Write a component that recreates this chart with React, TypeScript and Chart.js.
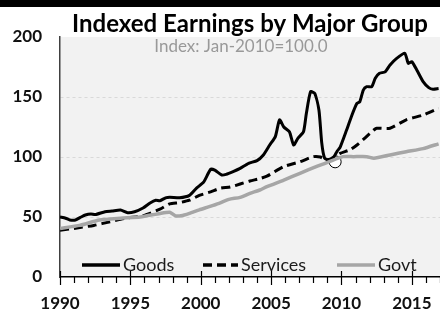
import React, { useEffect, useRef } from "react";
import { Chart, registerables } from "chart.js";

Chart.register(...registerables);

const TITLE = "Indexed Earnings by Major Group";
const SUBTITLE = "Index: Jan-2010=100.0";
const SERIES_NAMES = ["Goods", "Services", "Govt"];

const goodsYears = [1990.0, 1990.4, 1990.7, 1991.1, 1991.5, 1991.8, 1992.2, 1992.5, 1993.2, 1993.7, 1994.3, 1994.8, 1995.3, 1995.9, 1996.4, 1996.8, 1997.1, 1997.5, 1997.8, 1998.5, 1999.2, 1999.7, 2000.2, 2000.7, 2001.0, 2001.5, 2001.8, 2002.3, 2002.8, 2003.4, 2004.0, 2004.45, 2004.9, 2005.3, 2005.6, 2005.9, 2006.3, 2006.6, 2006.9, 2007.3, 2007.5, 2007.8, 2008.1, 2008.4, 2008.6, 2008.8, 2009.1, 2009.4, 2009.7, 2009.9, 2010.35, 2010.7, 2011.1, 2011.3, 2011.55, 2011.8, 2012.15, 2012.4, 2012.7, 2013.1, 2013.45, 2013.9, 2014.5, 2014.75, 2015.0, 2015.35, 2015.8, 2016.2, 2016.5, 2016.9];
const goodsValues = [50, 49, 47.5, 47.5, 50, 51.7, 52.5, 52, 54.4, 55, 55.8, 53.6, 54.4, 57.5, 61.7, 64, 63.5, 66, 66.5, 66, 68, 74, 79, 89.7, 89, 85, 85.5, 87.8, 90.5, 94.7, 97, 101.7, 110, 117, 131, 125, 121, 110, 115.6, 121, 136, 154.4, 153, 139, 111.5, 99, 97.5, 99, 105, 108, 122, 133.6, 144.7, 146, 155.8, 158.6, 158.6, 165.6, 169.7, 171, 176.7, 182, 186.4, 178, 179.4, 172.5, 162.8, 157.8, 156.4, 157];

const servicesYears = [1990.0, 1991.0, 1992.4, 1993.55, 1994.7, 1995.9, 1997.1, 1997.8, 1998.5, 1999.2, 1999.9, 2000.7, 2001.4, 2002.1, 2002.8, 2003.5, 2004.2, 2004.7, 2005.9, 2007.05, 2008.0, 2008.5, 2008.9, 2009.4, 2009.9, 2010.6, 2011.1, 2012.3, 2012.5, 2013.45, 2014.6, 2015.8, 2016.9];
const servicesValues = [39, 40.5, 43, 46, 49, 51, 56.5, 61, 62, 64, 68, 71, 74, 75, 77.5, 80, 82, 84, 92, 96, 100.3, 100, 97.5, 99, 103, 106, 110, 122.5, 124, 124, 131, 135, 140.6];

const govtYears = [1990.0, 1991.4, 1992.8, 1994.3, 1995.7, 1997.1, 1997.8, 1998.2, 1998.6, 1999.2, 1999.9, 2000.6, 2001.3, 2002.0, 2002.8, 2003.5, 2004.2, 2004.7, 2005.9, 2007.05, 2008.2, 2009.1, 2010.1, 2010.85, 2011.8, 2012.3, 2013.45, 2014.6, 2015.8, 2016.9];
const govtValues = [40.5, 43, 47.5, 49, 50, 53, 54, 51, 51, 53, 56, 58.6, 61.4, 64.7, 66.4, 69.7, 72.5, 75.3, 80.8, 86.4, 92, 96, 100.3, 100.3, 100.3, 99, 101.7, 104.4, 107, 111];

const markerYear = [2009.55];
const markerValue = [96];

const xMin = 1990;
const xMax = 2017;
const xTickValues = [1990, 1995, 2000, 2005, 2010, 2015];
const yMin = 0;
const yMax = 200;
const yTickValues = [0, 50, 100, 150, 200];

const FONT = "Lato, 'Open Sans', sans-serif";

function toPoints(xs: number[], ys: number[]) {
  return xs.map((x, i) => ({ x, y: ys[i] }));
}

const decorPlugin = {
  id: "decor",
  beforeDraw(chart: any) {
    const { ctx, chartArea } = chart;
    ctx.save();
    ctx.fillStyle = "#f2f2f2";
    ctx.fillRect(chartArea.left, chartArea.top, chartArea.right - chartArea.left, chartArea.bottom - chartArea.top);
    ctx.fillStyle = "#000000";
    ctx.font = `bold 24px ${FONT}`;
    ctx.textAlign = "center";
    ctx.textBaseline = "alphabetic";
    ctx.fillText(TITLE, (chartArea.left + chartArea.right) / 2, 32);
    ctx.fillStyle = "#999999";
    ctx.font = `17px ${FONT}`;
    ctx.fillText(SUBTITLE, 241, 52);
    ctx.restore();
  },
  afterDraw(chart: any) {
    const { ctx, chartArea } = chart;
    const xs = chart.scales.x;
    const axisY = chartArea.bottom;
    ctx.save();
    ctx.strokeStyle = "#000000";
    ctx.lineWidth = 1.2;
    for (let yr = xMin; yr <= xMax; yr++) {
      const px = Math.round(xs.getPixelForValue(yr)) + 0.5;
      ctx.beginPath();
      if (xTickValues.includes(yr)) {
        ctx.moveTo(px, axisY - 6);
        ctx.lineTo(px, axisY + 8);
      } else {
        ctx.moveTo(px, axisY);
        ctx.lineTo(px, axisY + 6);
      }
      ctx.stroke();
    }
    const ly = 265;
    const items = [
      { name: SERIES_NAMES[0], x0: 82, x1: 120, color: "#000000", dash: [] as number[] },
      { name: SERIES_NAMES[1], x0: 203, x1: 238, color: "#000000", dash: [9, 5] },
      { name: SERIES_NAMES[2], x0: 337, x1: 375, color: "#a6a6a6", dash: [] as number[] },
    ];
    ctx.font = `18px ${FONT}`;
    ctx.textAlign = "left";
    ctx.textBaseline = "middle";
    for (const it of items) {
      ctx.beginPath();
      ctx.setLineDash(it.dash);
      ctx.strokeStyle = it.color;
      ctx.lineWidth = 3.5;
      ctx.moveTo(it.x0, ly);
      ctx.lineTo(it.x1, ly);
      ctx.stroke();
      ctx.setLineDash([]);
      ctx.fillStyle = "#1a1a1a";
      ctx.fillText(it.name, it.x1 + 3, ly);
    }
    ctx.restore();
  },
};

export default function App() {
  const ref = useRef<HTMLCanvasElement | null>(null);
  useEffect(() => {
    if (!ref.current) return;
    const chart = new Chart(ref.current, {
      type: "line",
      data: {
        datasets: [
          {
            label: SERIES_NAMES[2],
            data: toPoints(govtYears, govtValues),
            borderColor: "#a6a6a6",
            borderWidth: 3.5,
            pointRadius: 0,
            tension: 0.2,
          },
          {
            label: SERIES_NAMES[1],
            data: toPoints(servicesYears, servicesValues),
            borderColor: "#000000",
            borderWidth: 3,
            borderDash: [9, 5],
            pointRadius: 0,
            tension: 0.2,
          },
          {
            label: SERIES_NAMES[0],
            data: toPoints(goodsYears, goodsValues),
            borderColor: "#000000",
            borderWidth: 3,
            pointRadius: 0,
            tension: 0.2,
          },
          {
            label: "marker",
            data: toPoints(markerYear, markerValue),
            showLine: false,
            pointRadius: 6,
            pointBackgroundColor: "#ffffff",
            pointBorderColor: "#000000",
            pointBorderWidth: 1,
          },
        ],
      },
      options: {
        animation: false,
        responsive: false,
        layout: { autoPadding: false, padding: { top: 37, right: 0, left: 0, bottom: 0 } },
        plugins: { legend: { display: false }, title: { display: false }, tooltip: { enabled: false } },
        scales: {
          x: {
            type: "linear",
            min: xMin,
            max: xMax,
            afterFit: (s: any) => {
              s.height = 39;
              s.paddingLeft = 0;
              s.paddingRight = 0;
            },
            afterBuildTicks: (s: any) => {
              s.ticks = xTickValues.map((v) => ({ value: v }));
            },
            ticks: {
              autoSkip: false,
              padding: 16,
              maxRotation: 0,
              color: "#111111",
              font: { family: FONT, size: 17, weight: "bold" },
              callback: (v: any) => String(v),
            },
            grid: { display: false, drawTicks: false },
            border: { display: true, color: "#000000", width: 1.5 },
          },
          y: {
            min: yMin,
            max: yMax,
            afterFit: (s: any) => {
              s.width = 60;
              s.paddingTop = 0;
              s.paddingBottom = 0;
            },
            afterBuildTicks: (s: any) => {
              s.ticks = yTickValues.map((v) => ({ value: v }));
            },
            ticks: {
              autoSkip: false,
              padding: 18,
              color: "#111111",
              font: { family: FONT, size: 17, weight: "bold" },
            },
            grid: {
              drawTicks: false,
              color: (c: any) => (c.tick && (c.tick.value === yMin || c.tick.value === yMax) ? "rgba(0,0,0,0)" : "#d9d9d9"),
              lineWidth: 1,
            },
            border: { display: true, color: "#404040", width: 1.5, dash: [3, 3] },
          },
        },
      },
      plugins: [decorPlugin],
    });
    return () => chart.destroy();
  }, []);
  return (
    <div style={{ position: "fixed", left: 0, top: 0, width: 440, height: 316, background: "#fff" }}>
      <canvas ref={ref} width={440} height={316} style={{ display: "block", width: 440, height: 316 }} />
      <div style={{ position: "absolute", left: 0, top: 0, width: 440, height: 7, background: "#000" }} />
    </div>
  );
}
